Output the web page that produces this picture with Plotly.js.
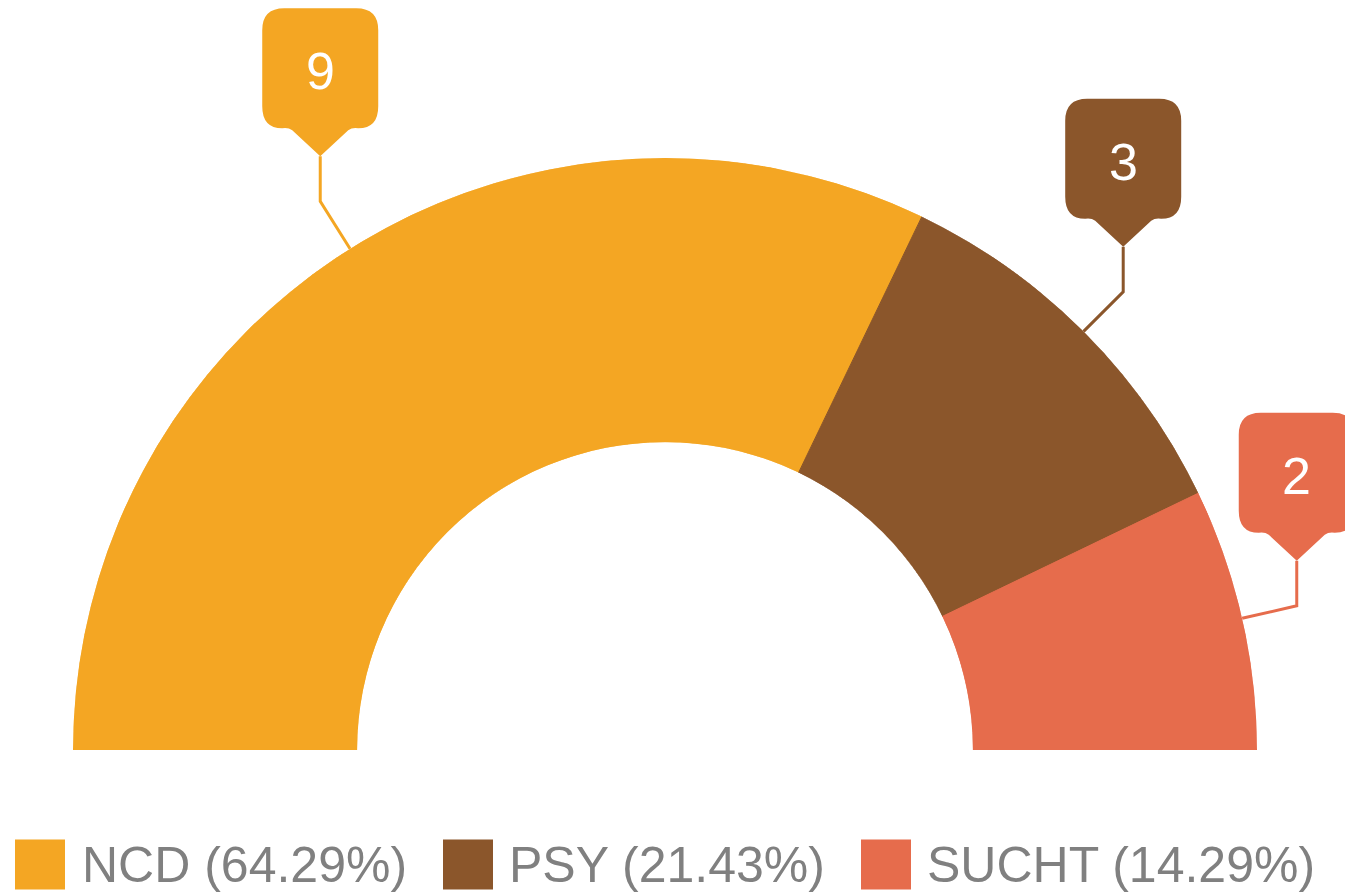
<!DOCTYPE html>
<html><head><meta charset="utf-8">
<script src="https://cdn.plot.ly/plotly-3.0.1.min.js"></script>
<style>html,body{margin:0;padding:0;background:#fff;overflow:hidden}#chart{width:1345px;height:893px}</style>
</head><body><div id="chart"></div>
<script>
// ---- data ----
const categories = ['NCD', 'PSY', 'SUCHT'];
const values = [9, 3, 2];
const palette = ['#F4A623', '#8B562B', '#E66C4C'];

// ---- layout constants (pixels) ----
const W = 1345, H = 893;
const CX = 665, CY = 750, R = 592;   // centre and outer radius of the half donut
const HOLE = 0.52;
const ELBOW = 56, STEM = 45;         // connector geometry
const legendSquareX = [15, 443, 861];
const legendTextX = [80, 507, 925];
const legendY = 864.5, legendSq = 50;
const FONT = 'Arial, Liberation Sans, sans-serif';

const total = values.reduce((a, b) => a + b, 0);
let cum = 0;
const widths = values.map(v => v / total * 180);
const centers = widths.map(w => { const c = cum + w / 2; cum += w; return c; });

const traces = [{
  type: 'barpolar',
  r: values.map(() => 1),
  theta: centers,
  width: widths,
  marker: {color: palette, line: {color: palette, width: 1}},
  hoverinfo: 'skip',
  showlegend: false,
  subplot: 'polar'
}];

const shapes = [];
const annotations = [];

const boxPath = 'M0,45 L-28,71 Q-32,74 -38,73 Q-58,73 -58,95 L-58,171 Q-58,193 -36,193 L36,193 Q58,193 58,171 L58,95 Q58,73 38,73 Q32,74 28,71 Z';

values.forEach((v, i) => {
  const a = (180 - centers[i]) * Math.PI / 180;
  const x0 = Math.cos(a), y0 = Math.sin(a);
  const r1 = 1 + ELBOW / R;
  const x1 = r1 * Math.cos(a), y1 = r1 * Math.sin(a);
  const y2 = y1 + STEM / R;
  traces.push({
    type: 'scatter', x: [x0, x1, x1], y: [y0, y1, y2], mode: 'lines',
    line: {color: palette[i], width: 3}, hoverinfo: 'skip', showlegend: false,
    xaxis: 'x', yaxis: 'y'
  });
  shapes.push({
    type: 'path', xref: 'x', yref: 'y', xsizemode: 'pixel', ysizemode: 'pixel',
    xanchor: x1, yanchor: y1, path: boxPath, fillcolor: palette[i],
    line: {width: 0}, layer: 'above'
  });
  annotations.push({
    xref: 'x', yref: 'y', x: x1, y: y1, yshift: 130, text: String(v),
    showarrow: false, xanchor: 'center', yanchor: 'middle',
    font: {color: '#ffffff', size: 52, family: FONT}
  });
});

// ---- legend (drawn manually) ----
categories.forEach((c, i) => {
  const x0 = legendSquareX[i], y0 = legendY - legendSq / 2;
  shapes.push({
    type: 'rect', xref: 'paper', yref: 'paper',
    x0: x0 / W, x1: (x0 + legendSq) / W,
    y0: 1 - (y0 + legendSq) / H, y1: 1 - y0 / H,
    fillcolor: palette[i], line: {width: 0}
  });
  const pct = (values[i] / total * 100).toFixed(2);
  annotations.push({
    xref: 'paper', yref: 'paper', x: legendTextX[i] / W, y: 1 - legendY / H,
    xanchor: 'left', yanchor: 'middle', showarrow: false,
    text: c + ' (' + pct + '%)',
    font: {color: '#808080', size: 50, family: FONT}
  });
});

const layout = {
  width: W, height: H,
  margin: {l: 0, r: 0, t: 0, b: 0, pad: 0},
  paper_bgcolor: '#ffffff', plot_bgcolor: 'rgba(0,0,0,0)',
  showlegend: false, hovermode: false,
  polar: {
    domain: {x: [(CX - R) / W, (CX + R) / W], y: [(H - CY) / H, (H - CY + R) / H]},
    sector: [0, 180], hole: HOLE, bgcolor: 'rgba(0,0,0,0)',
    radialaxis: {visible: false, range: [0, 1]},
    angularaxis: {visible: false, rotation: 180, direction: 'clockwise', thetaunit: 'degrees'}
  },
  xaxis: {domain: [0, 1], range: [-CX / R, (W - CX) / R], visible: false, fixedrange: true},
  yaxis: {domain: [0, 1], range: [-(H - CY) / R, CY / R], visible: false, fixedrange: true},
  shapes: shapes,
  annotations: annotations
};

Plotly.newPlot('chart', traces, layout, {displayModeBar: false, staticPlot: true});
</script>
</body></html>
